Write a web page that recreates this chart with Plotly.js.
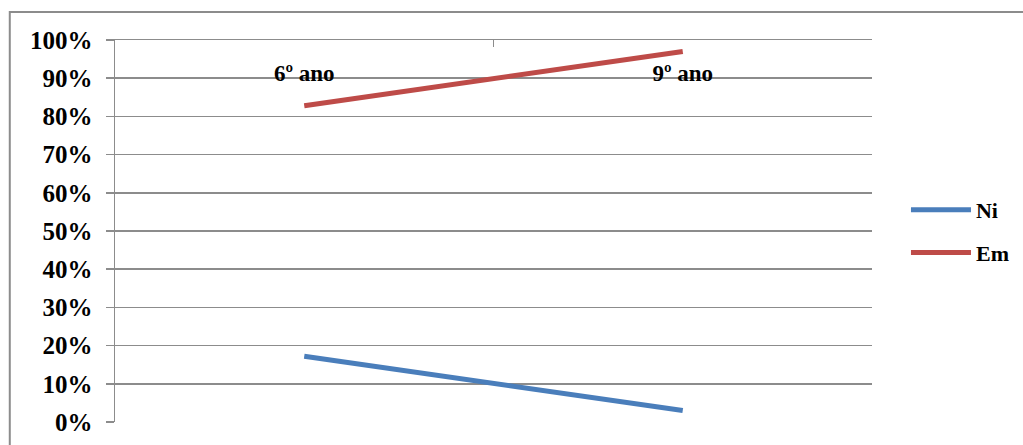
<!DOCTYPE html>
<html>
<head>
<meta charset="utf-8">
<script src="https://cdn.plot.ly/plotly-3.0.1.min.js"></script>
<style>
html,body{margin:0;padding:0;background:#fff;}
#chart{width:1023px;height:445px;}
</style>
</head>
<body>
<div id="chart"></div>
<script>
const categories = ["6º ano", "9º ano"];
const seriesNames = ["Ni", "Em"];
const niValues = [0.172, 0.030];
const emValues = [0.828, 0.970];
const seriesColors = ["#4A7EBB", "#BE4B48"];

const fontFam = "'Liberation Serif', 'Times New Roman', serif";
const gridCol = "#8c8c8c";

const traces = [niValues, emValues].map((vals, i) => ({
  type: "scatter",
  mode: "lines",
  x: categories,
  y: vals,
  xaxis: i === 0 ? "x" : "x2",
  yaxis: "y",
  name: seriesNames[i],
  legendgroup: seriesNames[i],
  line: {color: seriesColors[i], width: 5},
  hoverinfo: "x+y+name"
}));

const layout = {
  width: 1023,
  height: 445,
  margin: {l: 115, r: 151, t: 40, b: 23},
  paper_bgcolor: "#fff",
  plot_bgcolor: "#fff",
  showlegend: true,
  legend: {
    xref: "container", yref: "container",
    x: 0.8856, xanchor: "left",
    y: 0.4798, yanchor: "middle",
    font: {family: fontFam, size: 22, color: "#000", weight: 700},
    tracegroupgap: 11,
    traceorder: "grouped",
    itemwidth: 60
  },
  xaxis: {
    type: "category",
    side: "top",
    range: [-0.5, 1.5],
    tickson: "boundaries",
    ticks: "inside",
    ticklen: 7,
    tickcolor: gridCol,
    tickwidth: 1.5,
    showline: true,
    linecolor: gridCol,
    linewidth: 1.5,
    showgrid: false,
    zeroline: false,
    showticklabels: false,
    fixedrange: true
  },
  xaxis2: {
    type: "category",
    overlaying: "x",
    anchor: "free",
    position: 0.955,
    side: "bottom",
    range: [-0.5, 1.5],
    ticks: "",
    showline: false,
    showgrid: false,
    zeroline: false,
    showticklabels: true,
    tickfont: {family: fontFam, size: 23, color: "#000", weight: 700},
    fixedrange: true
  },
  yaxis: {
    range: [0, 1],
    dtick: 0.1,
    tick0: 0,
    tickformat: ".0%",
    showgrid: true,
    gridcolor: gridCol,
    gridwidth: 1.5,
    ticks: "outside",
    ticklen: 8,
    tickcolor: gridCol,
    tickwidth: 1.5,
    showline: true,
    linecolor: gridCol,
    linewidth: 1.5,
    zeroline: false,
    ticklabelstandoff: 8,
    tickfont: {family: fontFam, size: 25, color: "#000", weight: 700},
    fixedrange: true
  },
  shapes: [{
    type: "rect", xref: "paper", yref: "paper",
    x0: -0.139, x1: 1.4, y0: -0.3, y1: 1.073,
    line: {color: gridCol, width: 2}, layer: "below"
  }]
};

Plotly.newPlot("chart", traces, layout, {displayModeBar: false, staticPlot: true});
</script>
</body>
</html>
